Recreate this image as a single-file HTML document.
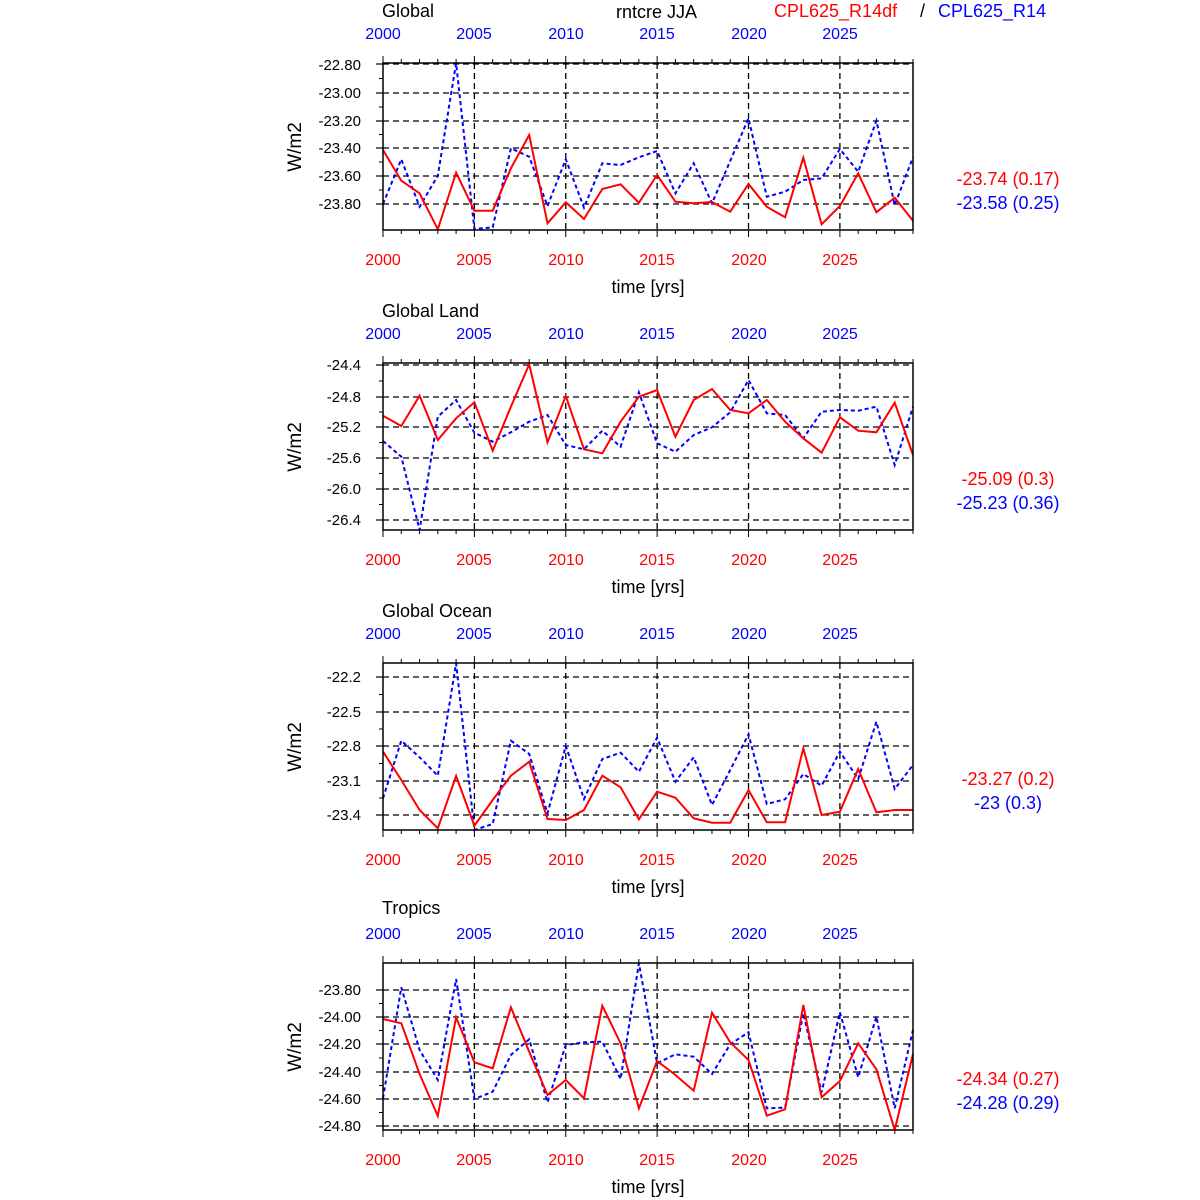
<!DOCTYPE html>
<html><head><meta charset="utf-8"><style>
html,body{margin:0;padding:0;background:#fff;}
svg{display:block;font-family:"Liberation Sans",sans-serif;}
</style></head><body>
<svg id="s" width="1200" height="1200" xmlns="http://www.w3.org/2000/svg">
<g font-size="18" fill="#000">
<text x="382" y="17">Global</text>
<text x="616" y="18">rntcre JJA</text>
<text x="774" y="17" fill="#f00">CPL625_R14df</text>
<text x="920" y="17">/</text>
<text x="938" y="17" fill="#00f">CPL625_R14</text>
<text x="382" y="317">Global Land</text>
<text x="382" y="617">Global Ocean</text>
<text x="382" y="914">Tropics</text>
</g>
<g font-size="16" fill="#00f" text-anchor="middle">
<text x="383" y="39">2000</text><text x="474" y="39">2005</text><text x="566" y="39">2010</text><text x="657" y="39">2015</text><text x="749" y="39">2020</text><text x="840" y="39">2025</text>
<text x="383" y="339">2000</text><text x="474" y="339">2005</text><text x="566" y="339">2010</text><text x="657" y="339">2015</text><text x="749" y="339">2020</text><text x="840" y="339">2025</text>
<text x="383" y="639">2000</text><text x="474" y="639">2005</text><text x="566" y="639">2010</text><text x="657" y="639">2015</text><text x="749" y="639">2020</text><text x="840" y="639">2025</text>
<text x="383" y="939">2000</text><text x="474" y="939">2005</text><text x="566" y="939">2010</text><text x="657" y="939">2015</text><text x="749" y="939">2020</text><text x="840" y="939">2025</text>
</g>
<g font-size="16" fill="#f00" text-anchor="middle">
<text x="383" y="265">2000</text><text x="474" y="265">2005</text><text x="566" y="265">2010</text><text x="657" y="265">2015</text><text x="749" y="265">2020</text><text x="840" y="265">2025</text>
<text x="383" y="565">2000</text><text x="474" y="565">2005</text><text x="566" y="565">2010</text><text x="657" y="565">2015</text><text x="749" y="565">2020</text><text x="840" y="565">2025</text>
<text x="383" y="865">2000</text><text x="474" y="865">2005</text><text x="566" y="865">2010</text><text x="657" y="865">2015</text><text x="749" y="865">2020</text><text x="840" y="865">2025</text>
<text x="383" y="1165">2000</text><text x="474" y="1165">2005</text><text x="566" y="1165">2010</text><text x="657" y="1165">2015</text><text x="749" y="1165">2020</text><text x="840" y="1165">2025</text>
</g>
<g font-size="18" text-anchor="middle">
<text x="648" y="293">time [yrs]</text>
<text x="648" y="593">time [yrs]</text>
<text x="648" y="893">time [yrs]</text>
<text x="648" y="1193">time [yrs]</text>
</g>
<g font-size="19" text-anchor="middle">
<text transform="translate(301,147) rotate(-90)">W/m2</text>
<text transform="translate(301,447) rotate(-90)">W/m2</text>
<text transform="translate(301,747) rotate(-90)">W/m2</text>
<text transform="translate(301,1047) rotate(-90)">W/m2</text>
</g>
<g font-size="15" text-anchor="end">
<text x="361" y="70">-22.80</text><text x="361" y="98">-23.00</text><text x="361" y="126">-23.20</text><text x="361" y="153">-23.40</text><text x="361" y="181">-23.60</text><text x="361" y="209">-23.80</text>
<text x="361" y="370">-24.4</text><text x="361" y="402">-24.8</text><text x="361" y="432">-25.2</text><text x="361" y="463">-25.6</text><text x="361" y="494">-26.0</text><text x="361" y="525">-26.4</text>
<text x="361" y="682">-22.2</text><text x="361" y="717">-22.5</text><text x="361" y="751">-22.8</text><text x="361" y="786">-23.1</text><text x="361" y="820">-23.4</text>
<text x="361" y="995">-23.80</text><text x="361" y="1022">-24.00</text><text x="361" y="1049">-24.20</text><text x="361" y="1077">-24.40</text><text x="361" y="1104">-24.60</text><text x="361" y="1131">-24.80</text>
</g>
<g font-size="18" text-anchor="middle">
<text x="1008" y="185" fill="#f00">-23.74 (0.17)</text><text x="1008" y="209" fill="#00f">-23.58 (0.25)</text>
<text x="1008" y="485" fill="#f00">-25.09 (0.3)</text><text x="1008" y="509" fill="#00f">-25.23 (0.36)</text>
<text x="1008" y="785" fill="#f00">-23.27 (0.2)</text><text x="1008" y="809" fill="#00f">-23 (0.3)</text>
<text x="1008" y="1085" fill="#f00">-24.34 (0.27)</text><text x="1008" y="1109" fill="#00f">-24.28 (0.29)</text>
</g>
<g id="dyn"></g>
</svg>
<script>
var NS="http://www.w3.org/2000/svg",g=document.getElementById("dyn");
function el(t,a){var e=document.createElementNS(NS,t);for(var k in a)e.setAttribute(k,a[k]);g.appendChild(e);return e;}
var X=function(i){return 383+i*530/29;};
var P=[
{off:55,top:63,bot:230,grid:[64,93,121,148,176,204],
 r:[285,377,415,523,353,467,467,340,240,505,442,492,402,388,443,360,440,445,441,470,387,455,487,308,508,453,355,472,428,497],
 b:[447,313,455,362,25,522,517,280,305,453,313,458,325,330,307,288,415,325,445,318,190,425,410,375,370,282,350,197,450,307]},
{off:355,top:363,bot:530,grid:[365,397,427,458,489,520],
 r:[182,213,122,255,190,142,287,155,28,262,123,283,295,200,125,105,245,135,102,165,175,135,200,250,293,187,227,232,143,300],
 b:[258,305,525,185,135,233,260,232,200,180,270,283,227,275,112,265,290,240,217,172,75,175,180,250,170,165,167,155,330,155]},
{off:655,top:663,bot:830,grid:[677,712,746,781,815],
 r:[290,375,465,520,363,512,435,362,320,492,495,465,362,397,493,410,428,490,503,503,405,502,502,280,480,470,342,472,465,465],
 b:[430,257,307,362,25,525,507,257,297,475,273,432,312,293,350,248,380,307,450,345,238,447,433,357,392,290,372,200,402,330]},
{off:955,top:963,bot:1130,grid:[990,1017,1044,1072,1099,1126],
 r:[192,205,357,483,187,322,340,157,290,420,375,430,152,265,460,318,360,407,173,262,315,482,463,150,427,378,265,343,525,297],
 b:[430,97,285,375,72,432,410,300,253,442,270,262,260,372,25,325,298,305,357,268,232,460,458,175,412,172,367,185,460,225]}];
P.forEach(function(p){
 p.grid.forEach(function(y){el("line",{x1:383,x2:913,y1:y,y2:y,stroke:"#000","stroke-width":1.3,"stroke-dasharray":"6,4"});
  el("line",{x1:376,x2:383,y1:y,y2:y,stroke:"#000","stroke-width":1.2});});
 for(var k=1;k<6;k++){var x=X(5*k);el("line",{x1:x,x2:x,y1:p.top,y2:p.bot,stroke:"#000","stroke-width":1.3,"stroke-dasharray":"6,4"});}
 for(var i=0;i<30;i++){var x=X(i),L=(i%5==0)?7:4;
  el("line",{x1:x,x2:x,y1:p.top-L,y2:p.top,stroke:"#000","stroke-width":1});
  el("line",{x1:x,x2:x,y1:p.bot,y2:p.bot+L,stroke:"#000","stroke-width":1});}
 for(var j=0;j<p.grid.length-1;j++){var m=(p.grid[j]+p.grid[j+1])/2;el("line",{x1:379,x2:383,y1:m,y2:m,stroke:"#000","stroke-width":1});}
 function pts(a){return a.map(function(z,i){return X(i).toFixed(1)+","+(p.off+z/3).toFixed(1);}).join(" ");}
 el("polyline",{points:pts(p.b),fill:"none",stroke:"#00f","stroke-width":2,"stroke-dasharray":"4,3"});
 el("polyline",{points:pts(p.r),fill:"none",stroke:"#f00","stroke-width":2});
 el("rect",{x:383,y:p.top,width:530,height:p.bot-p.top,fill:"none",stroke:"#000","stroke-width":1.5});
});
</script>
</body></html>
